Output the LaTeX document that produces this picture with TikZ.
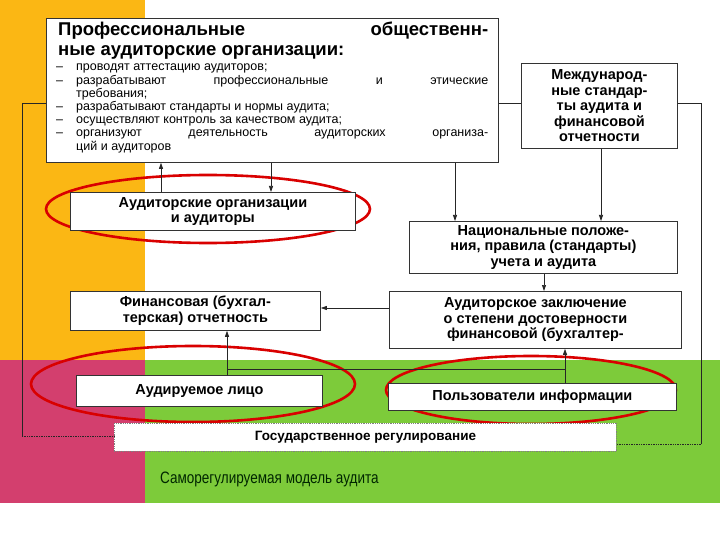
\documentclass[tikz,border=0pt]{standalone}
\usepackage{fontspec}
\setmainfont{Liberation Sans}
\usetikzlibrary{arrows.meta}
\definecolor{byel}{HTML}{FBB714}
\definecolor{bpink}{HTML}{D33F6E}
\definecolor{bgreen}{HTML}{7DCB3A}
\begin{document}
\begin{tikzpicture}[x=1pt,y=-1pt,
  box/.style={draw=black!80,fill=white,line width=0.8pt,inner sep=0pt,font=\bfseries\fontsize{14.5}{15.5}\selectfont,align=center},
  conn/.style={line width=0.7pt,black!85},
  arr/.style={conn,-{Triangle[length=6pt,width=4pt]}},
  oval/.style={draw=red!85!black,line width=2.6pt}]
\useasboundingbox (0,0) rectangle (720,540);
\fill[white] (0,0) rectangle (720,540);
\fill[byel] (0,0) rectangle (145,360);
\fill[bpink] (0,360) rectangle (145,503);
\fill[bgreen] (145,360) rectangle (720,503);
\fill[white] (145,0) rectangle (720,360);
% ovals
\draw[oval] (208,209) ellipse (162 and 34);
\draw[oval] (193,384) ellipse (162 and 38);
\draw[oval] (531,390) ellipse (145 and 34);
% boxes
\node[box,minimum width=452,minimum height=144,anchor=north west] (prof) at (46,18) {};
\node[anchor=north west,inner sep=0pt,align=left,font=\bfseries\fontsize{18.5}{20}\selectfont] (proftitle) at (58,22) {%
\makebox[430pt][s]{Профессиональные\hfill общественн-}\\ные аудиторские организации:};
\node[anchor=north west,inner sep=0pt,align=left] (proftext) at (56,64) {%
\parbox{432pt}{\fontsize{12.5}{13.2}\selectfont
\makebox[20pt][l]{–}проводят аттестацию аудиторов;\\
\makebox[20pt][l]{–}разрабатывают\hfill профессиональные\hfill и\hfill этические\\
\hspace*{20pt}требования;\\
\makebox[20pt][l]{–}разрабатывают стандарты и нормы аудита;\\
\makebox[20pt][l]{–}осуществляют контроль за качеством аудита;\\
\makebox[20pt][l]{–}организуют\hfill деятельность\hfill аудиторских\hfill организа-\\
\hspace*{20pt}ций и аудиторов}};
\node[box,minimum width=156,minimum height=85,anchor=north west] (intl) at (521,63) {Международ-\\ные стандар-\\ты аудита и\\финансовой\\отчетности};
\node[box,minimum width=285,minimum height=38,anchor=north west] (audorg) at (70,192) {Аудиторские организации\\и аудиторы};
\node[box,minimum width=268,minimum height=52,anchor=north west] (nat) at (409,221) {Национальные положе-\\ния, правила (стандарты)\\учета и аудита};
\node[box,minimum width=250,minimum height=39,anchor=north west] (fin) at (70,291) {Финансовая (бухгал-\\терская) отчетность};
\node[box,minimum width=292,minimum height=57,anchor=north west] (concl) at (389,291) {Аудиторское заключение\\о степени достоверности\\финансовой (бухгалтер-};
\node[box,minimum width=246,minimum height=31,anchor=north west] (audited) at (76,375) {Аудируемое лицо};
\node[box,minimum width=288,minimum height=27,anchor=north west] (users) at (388,383) {Пользователи информации};
\node[box,draw=black!50,densely dotted,minimum width=502,minimum height=28,anchor=north west,font=\bfseries\fontsize{13.5}{15}\selectfont] (gov) at (114,423) {Государственное регулирование};
\node[anchor=west,inner sep=0pt,font=\fontsize{16.5}{18}\selectfont,xscale=0.82,black!85!green] (cap) at (160,479) {Саморегулируемая модель аудита};
% connectors
\coordinate (l1) at (22,103); \coordinate (l2) at (22,436);
\coordinate (r1) at (701,103); \coordinate (r2) at (701,444);
\draw[conn] (prof.west |- l1) -- (l1) -- (l2);
\draw[conn,densely dotted] (l2) -- (gov.west |- l2);
\draw[conn] (prof.east |- l1) -- (intl.west |- l1);
\draw[conn] (intl.east |- r1) -- (r1) -- (r2);
\draw[conn,densely dotted] (r2) -- (gov.east |- r2);
\draw[arr] (audorg.north -| 161,0) -- (prof.south -| 161,0);
\draw[arr] (prof.south -| 271,0) -- (audorg.north -| 271,0);
\draw[arr] (prof.south -| 455,0) -- (nat.north -| 455,0);
\draw[arr] (intl.south -| 601,0) -- (nat.north -| 601,0);
\draw[arr] (nat.south -| 544,0) -- (concl.north -| 544,0);
\draw[arr] (concl.west |- 0,308) -- (fin.east |- 0,308);
\coordinate (h1) at (227,369); \coordinate (h2) at (565,369);
\draw[arr] (audited.north -| h1) -- (fin.south -| h1);
\draw[arr] (users.north -| h2) -- (concl.south -| h2);
\draw[conn] (h1) -- (h2);
\end{tikzpicture}
\end{document}
